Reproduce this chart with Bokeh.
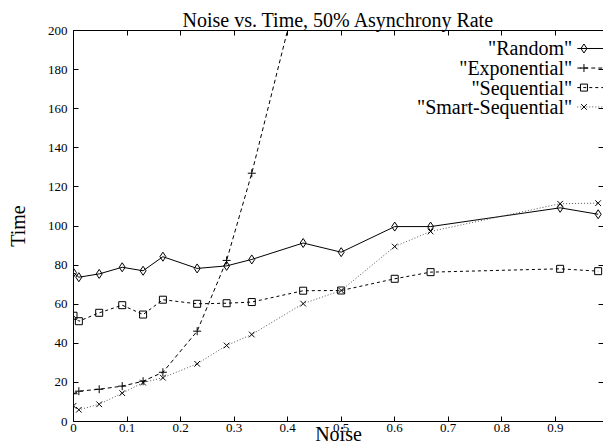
from bokeh.plotting import figure
from bokeh.models import Range1d, LinearAxis, FixedTicker, Label, CustomJSTickFormatter
from bokeh.embed import file_html
from bokeh.resources import INLINE

# ---- data ----
noise = [0, 0.01, 0.048, 0.091, 0.13, 0.167, 0.231, 0.286, 0.333, 0.429,
         0.5, 0.6, 0.667, 0.909, 0.98]
random_time = [76.1, 73.8, 75.5, 78.9, 77.1, 84.3, 78.3, 79.6, 82.9, 91.3,
               86.6, 99.7, 99.7, 109.3, 106.0]
exponential_noise = [0, 0.01, 0.048, 0.091, 0.13, 0.167, 0.231, 0.286, 0.333, 0.429]
exponential_time = [14.2, 15.5, 16.5, 18.1, 20.6, 25.2, 46.2, 82.4, 127.0, 232.0]
sequential_time = [54.1, 51.3, 55.6, 59.5, 54.7, 62.3, 60.2, 60.5, 61.1, 66.9,
                   67.0, 73.0, 76.4, 78.1, 76.9]
smart_time = [8.0, 6.0, 8.8, 14.5, 19.9, 22.4, 29.5, 38.9, 44.5, 60.3,
              67.0, 89.5, 97.2, 111.4, 111.7]
series_names = ['"Random"', '"Exponential"', '"Sequential"', '"Smart-Sequential"']
x_ticks = [0, 0.1, 0.2, 0.3, 0.4, 0.5, 0.6, 0.7, 0.8, 0.9]
y_ticks = [0, 20, 40, 60, 80, 100, 120, 140, 160, 180, 200]
title_text = "Noise vs. Time, 50% Asynchrony Rate"
x_label = "Noise"
y_label = "Time"

SERIF = "Liberation Serif"

p = figure(width=603, height=447, output_backend="svg", toolbar_location=None,
           x_range=Range1d(0, 0.99), y_range=Range1d(0, 200),
           min_border_left=73, min_border_right=0, min_border_top=30,
           min_border_bottom=26, title=title_text)
p.xgrid.visible = False
p.ygrid.visible = False
p.outline_line_color = None
p.background_fill_color = "white"
p.border_fill_color = "white"

p.title.text_font = SERIF
p.title.text_font_size = "20px"
p.title.text_font_style = "normal"
p.title.text_color = "black"
p.title.align = "center"
p.title.standoff = 0
p.title.offset = 0

def style_axis(ax, ticks, labels=True):
    ax.ticker = FixedTicker(ticks=ticks)
    ax.major_tick_in = 5
    ax.major_tick_out = 0
    ax.minor_tick_line_color = None
    ax.axis_line_color = "black"
    ax.major_tick_line_color = "black"
    ax.major_label_text_font = SERIF
    ax.major_label_text_font_style = "normal"
    ax.major_label_text_color = "black"
    ax.axis_label_text_font = SERIF
    ax.axis_label_text_font_size = "20px"
    ax.axis_label_text_font_style = "normal"
    ax.axis_label_text_color = "black"
    if labels:
        ax.major_label_text_font_size = "13px"
    else:
        ax.major_label_text_font_size = "0px"
        ax.major_label_standoff = 0
        ax.formatter = CustomJSTickFormatter(code="return ''")

xa = p.xaxis[0]
style_axis(xa, x_ticks)
xa.major_label_standoff = 2
xa.major_label_overrides = {0: "0"}
xa.axis_label = x_label
xa.axis_label_standoff = -12

ya = p.yaxis[0]
style_axis(ya, y_ticks)
ya.major_label_standoff = 6
ya.axis_label = y_label
ya.axis_label_standoff = 16

top_axis = LinearAxis()
style_axis(top_axis, x_ticks, labels=False)
p.add_layout(top_axis, "above")

right_axis = LinearAxis()
style_axis(right_axis, y_ticks, labels=False)
right_axis.axis_line_color = None
p.add_layout(right_axis, "right")

styles = [
    dict(x=noise, y=random_time, marker="diamond", dash="solid", color="black", size=9),
    dict(x=exponential_noise, y=exponential_time, marker="cross", dash="4 3", color="black", size=8),
    dict(x=noise, y=sequential_time, marker="square", dash="3 3", color="black", size=7),
    dict(x=noise, y=smart_time, marker="x", dash="1 2", color="#555555", size=8),
]

legend_rows_y = [190.8, 180.8, 170.8, 160.9]
legend_text_x = 0.9315
legend_line_x = [0.941, 0.99]
legend_marker_x = 0.9535

for st, name, ly in zip(styles, series_names, legend_rows_y):
    p.line(st["x"], st["y"], line_color=st["color"], line_width=1, line_dash=st["dash"])
    p.scatter(st["x"], st["y"], marker=st["marker"], size=st["size"],
              line_color="black", fill_color=None, line_width=1)
    # legend entry (gnuplot style: text then sample)
    p.add_layout(Label(x=legend_text_x, y=ly, text=name, text_font=SERIF,
                       text_font_size="20px", text_align="right",
                       text_baseline="middle", text_color="black"))
    p.line(legend_line_x, [ly, ly], line_color=st["color"], line_width=1,
           line_dash=st["dash"])
    p.scatter([legend_marker_x], [ly], marker=st["marker"], size=st["size"],
              line_color="black", fill_color=None, line_width=1)

open("out.html", "w").write(file_html(p, INLINE))
